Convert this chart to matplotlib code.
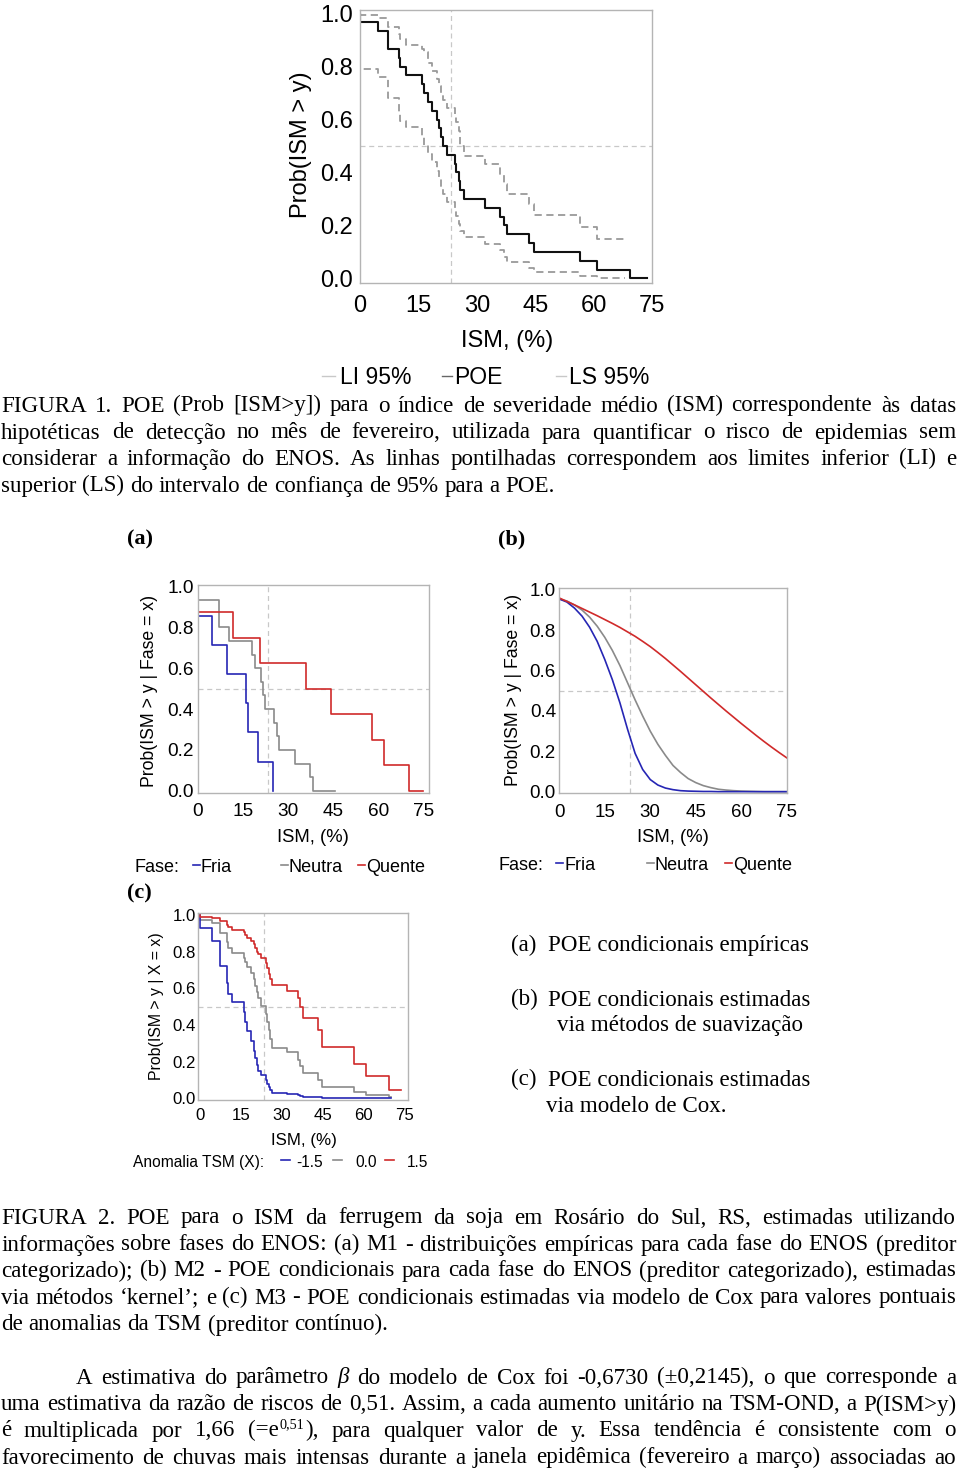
import matplotlib
matplotlib.use("Agg")
import matplotlib.pyplot as plt
from matplotlib.lines import Line2D

# ---------------- data ----------------
# Figure 1: empirical POE with 95% confidence limits
f1_x = [0, 0, 4.5, 7.3, 9.9, 10.3, 11.7, 16.0, 16.5, 17.4, 18.6, 19.7, 20.2, 20.8, 21.4, 22.3,
        24.3, 24.7, 25.3, 25.7, 26.6, 32.1, 36.0, 36.9, 37.7, 43.3, 44.7, 56.6, 60.9, 69.3, 73.7]
f1_poe = [1.0, 0.967, 0.933, 0.867, 0.833, 0.800, 0.767, 0.733, 0.700, 0.667, 0.633, 0.600,
          0.567, 0.533, 0.500, 0.467, 0.433, 0.400, 0.367, 0.333, 0.300, 0.267, 0.233, 0.200,
          0.167, 0.133, 0.100, 0.067, 0.033, 0.0, 0.0]
f1_ci_x = [0, 0, 4.5, 7.3, 9.9, 10.3, 11.7, 16.0, 16.5, 17.4, 18.6, 19.7, 20.2, 20.8, 21.4, 22.3,
           24.3, 24.7, 25.3, 25.7, 26.6, 32.1, 36.0, 36.9, 37.7, 43.3, 44.7, 56.6, 60.9, 68.0]
f1_ls = [1.0, 0.995, 0.985, 0.95, 0.925, 0.905, 0.88, 0.865, 0.855, 0.815, 0.785, 0.755, 0.725,
         0.70, 0.675, 0.645, 0.62, 0.59, 0.555, 0.50, 0.463, 0.43, 0.39, 0.355, 0.32, 0.28, 0.24,
         0.195, 0.15, 0.15]
f1_li = [1.0, 0.79, 0.76, 0.68, 0.62, 0.595, 0.57, 0.535, 0.505, 0.47, 0.44, 0.405, 0.375, 0.345,
         0.32, 0.29, 0.26, 0.235, 0.205, 0.18, 0.155, 0.13, 0.105, 0.08, 0.06, 0.04, 0.025, 0.01,
         0.0, 0.0]

# Figure 2a: empirical POE per ENOS phase
fria_x = [0, 0, 4.6, 9.9, 16.2, 16.8, 20.1, 24.9]
fria_y = [1.0, 0.857, 0.714, 0.571, 0.429, 0.286, 0.143, 0.0]
neutra_x = [0, 0, 7.2, 10.4, 17.9, 18.9, 20.9, 21.8, 22.4, 25.3, 26.2, 27.0, 32.3, 37.2, 38.3, 45.5]
neutra_y = [1.0, 0.933, 0.80, 0.733, 0.667, 0.60, 0.533, 0.467, 0.40, 0.333, 0.267, 0.20, 0.133,
            0.067, 0.0, 0.0]
quente_x = [0, 0, 11.6, 20.7, 36.1, 44.2, 57.8, 62.1, 70.2, 74.8]
quente_y = [1.0, 0.875, 0.75, 0.625, 0.50, 0.375, 0.25, 0.125, 0.0, 0.0]

# Figure 2b: kernel-smoothed POE per phase
kern_x = [0, 2.5, 5, 7.5, 10, 12.5, 15, 17.5, 20, 22.5, 25, 27.5, 30, 32.5, 35, 37.5, 40, 42.5,
          45, 47.5, 50, 52.5, 55, 57.5, 60, 62.5, 65, 67.5, 70, 72.5, 75]
kern_fria = [0.955, 0.94, 0.91, 0.87, 0.815, 0.745, 0.655, 0.555, 0.44, 0.31, 0.19, 0.11, 0.06,
             0.033, 0.018, 0.01, 0.005, 0.003, 0.002, 0.001, 0.001, 0.0, 0.0, 0.0, 0.0, 0.0, 0.0,
             0.0, 0.0, 0.0, 0.0]
kern_neutra = [0.955, 0.945, 0.925, 0.90, 0.865, 0.82, 0.765, 0.70, 0.625, 0.54, 0.455, 0.375,
               0.30, 0.235, 0.18, 0.13, 0.095, 0.065, 0.045, 0.03, 0.02, 0.012, 0.008, 0.005,
               0.003, 0.002, 0.001, 0.0, 0.0, 0.0, 0.0]
kern_quente = [0.960, 0.943, 0.926, 0.908, 0.890, 0.872, 0.853, 0.834, 0.814, 0.792, 0.770, 0.745,
               0.719, 0.690, 0.660, 0.628, 0.596, 0.563, 0.530, 0.497, 0.464, 0.432, 0.400, 0.369,
               0.338, 0.308, 0.278, 0.249, 0.221, 0.194, 0.168]

# Figure 2c: Cox model POE for SST anomaly values
cox_x = [0, 0, 4.5, 7.3, 9.9, 10.3, 11.7, 16.0, 16.5, 17.4, 18.6, 19.7, 20.2, 20.8, 21.4, 22.3,
         24.3, 24.7, 25.3, 25.7, 26.6, 32.1, 36.0, 36.9, 37.7, 43.3, 44.7, 56.6, 60.9, 69.3, 74.0]
cox_x_short = [0, 0, 4.5, 7.3, 9.9, 10.3, 11.7, 16.0, 16.5, 17.4, 18.6, 19.7, 20.2, 20.8, 21.4,
               22.3, 24.3, 24.7, 25.3, 25.7, 26.6, 32.1, 36.0, 36.9, 37.7, 43.3, 44.7, 56.6, 60.9,
               69.3, 70.0]
cox_neg = [1.0, 0.93, 0.86, 0.72, 0.63, 0.57, 0.525, 0.47, 0.415, 0.365, 0.31, 0.26, 0.22, 0.18,
           0.15, 0.13, 0.10, 0.08, 0.06, 0.045, 0.03, 0.025, 0.018, 0.014, 0.01, 0.006, 0.004,
           0.002, 0.001, 0.0, 0.0]
cox_zero = [1.0, 0.975, 0.955, 0.90, 0.85, 0.82, 0.79, 0.765, 0.745, 0.715, 0.685, 0.65, 0.615,
            0.58, 0.545, 0.505, 0.46, 0.415, 0.37, 0.325, 0.275, 0.25, 0.21, 0.175, 0.14, 0.10,
            0.06, 0.035, 0.02, 0.008, 0.008]
cox_pos = [1.0, 0.99, 0.985, 0.965, 0.945, 0.935, 0.92, 0.905, 0.89, 0.875, 0.86, 0.84, 0.82,
           0.80, 0.785, 0.765, 0.74, 0.71, 0.68, 0.65, 0.62, 0.585, 0.545, 0.50, 0.44, 0.37, 0.28,
           0.185, 0.12, 0.045, 0.045]

x_ticks = [0, 15, 30, 45, 60, 75]
x_ticklabels = ["0", "15", "30", "45", "60", "75"]
y_ticks = [0.0, 0.2, 0.4, 0.6, 0.8, 1.0]
y_ticklabels = ["0.0", "0.2", "0.4", "0.6", "0.8", "1.0"]
ref_x = 23.4
ref_y = 0.5

# ---------------- styling ----------------
SANS = "Liberation Sans"
SERIF = "Liberation Serif"
BLUE = "#2626b4"
GRAY = "#8a8a8a"
RED = "#d02a2a"
FRAME = "#b4b4b4"
REF = "#c8c8c8"

W, H = 960, 1470
fig = plt.figure(figsize=(9.6, 14.7), dpi=100)
renderer = fig.canvas.get_renderer()


def fx(x):
    return x / W


def fy(y):
    return 1 - y / H


def make_ax(l, t, r, b, xlim, ylim, tsize, xpad, ypad):
    ax = fig.add_axes([fx(l), fy(b), (r - l) / W, (b - t) / H])
    ax.set_xlim(*xlim)
    ax.set_ylim(*ylim)
    ax.set_xticks(x_ticks)
    ax.set_xticklabels(x_ticklabels, family=SANS, fontsize=tsize)
    ax.set_yticks(y_ticks)
    ax.set_yticklabels(y_ticklabels, family=SANS, fontsize=tsize)
    ax.tick_params(axis="x", length=0, pad=xpad)
    ax.tick_params(axis="y", length=0, pad=ypad)
    for s in ax.spines.values():
        s.set_color(FRAME)
        s.set_linewidth(1.0)
    ax.axvline(ref_x, color=REF, lw=0.9, ls=(0, (4, 3)), zorder=1)
    ax.axhline(ref_y, color=REF, lw=0.9, ls=(0, (4, 3)), zorder=1)
    return ax


def ftext(x, y, s, **kw):
    kw.setdefault("family", SANS)
    return fig.text(fx(x), fy(y), s, **kw)


def ylab(x, y, s, size):
    ftext(x, y, s, fontsize=size, rotation=90, rotation_mode="anchor",
          ha="center", va="baseline")


def legend_line(x0, x1, y, color, lw=1.2, ls="-"):
    fig.add_artist(Line2D([fx(x0), fx(x1)], [fy(y), fy(y)], transform=fig.transFigure,
                          color=color, lw=lw, ls=ls))


# ---------- Figure 1 ----------
ax1 = make_ax(360, 10, 652, 283, (0, 75), (-0.018, 1.014), 17, 8.5, 5)
ax1.plot(f1_ci_x, f1_li, drawstyle="steps-post", color="#9a9a9a", lw=1.3, ls=(0, (4, 2.5)))
ax1.plot(f1_ci_x, f1_ls, drawstyle="steps-post", color="#9a9a9a", lw=1.3, ls=(0, (4, 2.5)))
ax1.plot(f1_x, f1_poe, drawstyle="steps-post", color="#111111", lw=1.5)
ylab(307, 145, "Prob(ISM > y)", 17)
ftext(507, 346.7, "ISM, (%)", fontsize=17, ha="center", va="baseline")
legend_line(322, 335, 376, "#c8c8c8", lw=1.0)
ftext(340, 383.5, "LI 95%", fontsize=16.5, va="baseline")
legend_line(442, 452, 376, "#666666", lw=1.0)
ftext(454, 383.5, "POE", fontsize=16.5, va="baseline")
legend_line(556, 566, 376, "#c8c8c8", lw=1.0)
ftext(569, 383.5, "LS 95%", fontsize=16.5, va="baseline")

# ---------- Figure 2a ----------
ax2a = make_ax(197.7, 585, 429, 793, (0, 76.9), (-0.011, 1.008), 13.7, 7, 2.7)
ax2a.plot(neutra_x, neutra_y, drawstyle="steps-post", color=GRAY, lw=1.2)
ax2a.plot(fria_x, fria_y, drawstyle="steps-post", color=BLUE, lw=1.2)
ax2a.plot(quente_x, quente_y, drawstyle="steps-post", color=RED, lw=1.2)
ylab(154, 690.7, "Prob(ISM > y | Fase = x)", 12.7)
ftext(313, 841.7, "ISM, (%)", fontsize=13.3, ha="center", va="baseline")
ftext(135, 871.7, "Fase:", fontsize=13, va="baseline")
legend_line(193, 200, 865, BLUE)
ftext(201, 871.7, "Fria", fontsize=13, va="baseline")
legend_line(281, 288, 865, GRAY)
ftext(289, 871.7, "Neutra", fontsize=13, va="baseline")
legend_line(358, 365, 865, RED)
ftext(366, 871.7, "Quente", fontsize=13, va="baseline")

# ---------- Figure 2b ----------
ax2b = make_ax(559.3, 588.3, 786.7, 793.3, (0, 75), (-0.008, 1.008), 13.5, 7.5, 2.4)
ax2b.plot(kern_x, kern_neutra, color=GRAY, lw=1.2)
ax2b.plot(kern_x, kern_fria, color=BLUE, lw=1.2)
ax2b.plot(kern_x, kern_quente, color=RED, lw=1.2)
ylab(517.6, 690, "Prob(ISM > y | Fase = x)", 12.7)
ftext(673, 841.7, "ISM, (%)", fontsize=13.3, ha="center", va="baseline")
ftext(498, 870, "Fase:", fontsize=13, va="baseline")
legend_line(556, 563, 863, BLUE)
ftext(564, 870, "Fria", fontsize=13, va="baseline")
legend_line(647, 654, 863, GRAY)
ftext(655, 870, "Neutra", fontsize=13, va="baseline")
legend_line(725, 732, 863, RED)
ftext(733, 870, "Quente", fontsize=13, va="baseline")

# ---------- Figure 2c ----------
ax2c = make_ax(198.3, 913.3, 408.3, 1100, (-0.6, 76.5), (-0.009, 1.009), 12.1, 5.5, 1.9)
ax2c.plot(cox_x_short, cox_zero, drawstyle="steps-post", color=GRAY, lw=1.2)
ax2c.plot(cox_x_short, cox_neg, drawstyle="steps-post", color=BLUE, lw=1.2)
ax2c.plot(cox_x, cox_pos, drawstyle="steps-post", color=RED, lw=1.2)
ylab(161.4, 1006, "Prob(ISM > y | X = x)", 11.4)
ftext(304, 1145, "ISM, (%)", fontsize=12.2, ha="center", va="baseline")
ftext(133, 1166.7, "Anomalia TSM (X):", fontsize=11.2, va="baseline")
legend_line(281, 290, 1160, BLUE)
ftext(296, 1166.7, "-1.5", fontsize=11.2, va="baseline")
legend_line(333, 342, 1160, GRAY)
ftext(355, 1166.7, "0.0", fontsize=11.2, va="baseline")
legend_line(385, 394, 1160, RED)
ftext(407, 1166.7, "1.5", fontsize=11.2, va="baseline")

# ---------------- captions / text ----------------
TSIZE = 16.6


def split_word(w):
    if w == "β":
        return [(w, {"style": "italic"})]
    if "^{" in w:
        pre, rest = w.split("^{", 1)
        sup, post = rest.split("}", 1)
        return [(pre, {}), (sup, {"size": TSIZE * 0.62, "rise": 8, "gap": 1}), (post, {"gap": 1})]
    return [(w, {})]


def seg_width(s, st, size):
    t = fig.text(0, 0, s, fontsize=st.get("size", size), family=SERIF,
                 style=st.get("style", "normal"))
    w = t.get_window_extent(renderer).width
    t.remove()
    return w


def draw_line(line, x0, x1, yb, size=TSIZE, justify=True, weight="normal"):
    words = [split_word(w) for w in line.split()]
    wsegs = []
    for segs in words:
        wsegs.append([seg_width(s, st, size) + st.get("gap", 0) for s, st in segs])
    total = sum(sum(ws) for ws in wsegs)
    n = len(words)
    if justify and n > 1:
        gap = (x1 - x0 - total) / (n - 1)
    else:
        gap = 0.25 * size * 100 / 72
    x = x0
    for segs, ws in zip(words, wsegs):
        for (s, st), w in zip(segs, ws):
            x += st.get("gap", 0)
            fig.text(fx(x), fy(yb - st.get("rise", 0)), s, fontsize=st.get("size", size),
                     family=SERIF, style=st.get("style", "normal"), weight=weight,
                     ha="left", va="baseline")
            x += w - st.get("gap", 0)
        x += gap


cap1 = [
    "FIGURA 1. POE (Prob [ISM>y]) para o índice de severidade médio (ISM) correspondente às datas",
    "hipotéticas de detecção no mês de fevereiro, utilizada para quantificar o risco de epidemias sem",
    "considerar a informação do ENOS. As linhas pontilhadas correspondem aos limites inferior (LI) e",
    "superior (LS) do intervalo de confiança de 95% para a POE.",
]
cap1_base = [411.5, 438.5, 464.5, 491.5]
for i, (ln, yb) in enumerate(zip(cap1, cap1_base)):
    draw_line(ln, 1, 956, yb, justify=(i < len(cap1) - 1))

cap2 = [
    "FIGURA 2. POE para o ISM da ferrugem da soja em Rosário do Sul, RS, estimadas utilizando",
    "informações sobre fases do ENOS: (a) M1 - distribuições empíricas para cada fase do ENOS (preditor",
    "categorizado); (b) M2 - POE condicionais para cada fase do ENOS (preditor categorizado), estimadas",
    "via métodos ‘kernel’; e (c) M3 - POE condicionais estimadas via modelo de Cox para valores pontuais",
    "de anomalias da TSM (preditor contínuo).",
]
cap2_base = [1223.5, 1250.5, 1276.5, 1303.5, 1330.5]
for i, (ln, yb) in enumerate(zip(cap2, cap2_base)):
    draw_line(ln, 1, 956, yb, justify=(i < len(cap2) - 1))

para = [
    "A estimativa do parâmetro β do modelo de Cox foi -0,6730 (±0,2145), o que corresponde a",
    "uma estimativa da razão de riscos de 0,51. Assim, a cada aumento unitário na TSM-OND, a P(ISM>y)",
    "é multiplicada por 1,66 (=e^{0,51}), para qualquer valor de y. Essa tendência é consistente com o",
    "favorecimento de chuvas mais intensas durante a janela epidêmica (fevereiro a março) associadas ao",
]
para_base = [1383.5, 1410.5, 1436.5, 1463.5]
para_x0 = [76, 1, 1, 1]
for ln, yb, x0 in zip(para, para_base, para_x0):
    draw_line(ln, x0, 956, yb, justify=True)

# panel labels
fig.text(fx(127), fy(544), "(a)", family=SERIF, weight="bold", fontsize=16, va="baseline")
fig.text(fx(498), fy(544), "(b)", family=SERIF, weight="bold", fontsize=16, va="baseline")
fig.text(fx(127), fy(898), "(c)", family=SERIF, weight="bold", fontsize=16, va="baseline")

# description block
desc = [
    (511, 951.5, "(a)"), (548, 951.5, "POE condicionais empíricas"),
    (511, 1005.5, "(b)"), (548, 1005.5, "POE condicionais estimadas"),
    (557, 1031.5, "via métodos de suavização"),
    (511, 1085.5, "(c)"), (548, 1085.5, "POE condicionais estimadas"),
    (546, 1111.5, "via modelo de Cox."),
]
for x, y, s in desc:
    fig.text(fx(x), fy(y), s, family=SERIF, fontsize=TSIZE, va="baseline", ha="left")

fig.savefig("out.png", dpi=100)
